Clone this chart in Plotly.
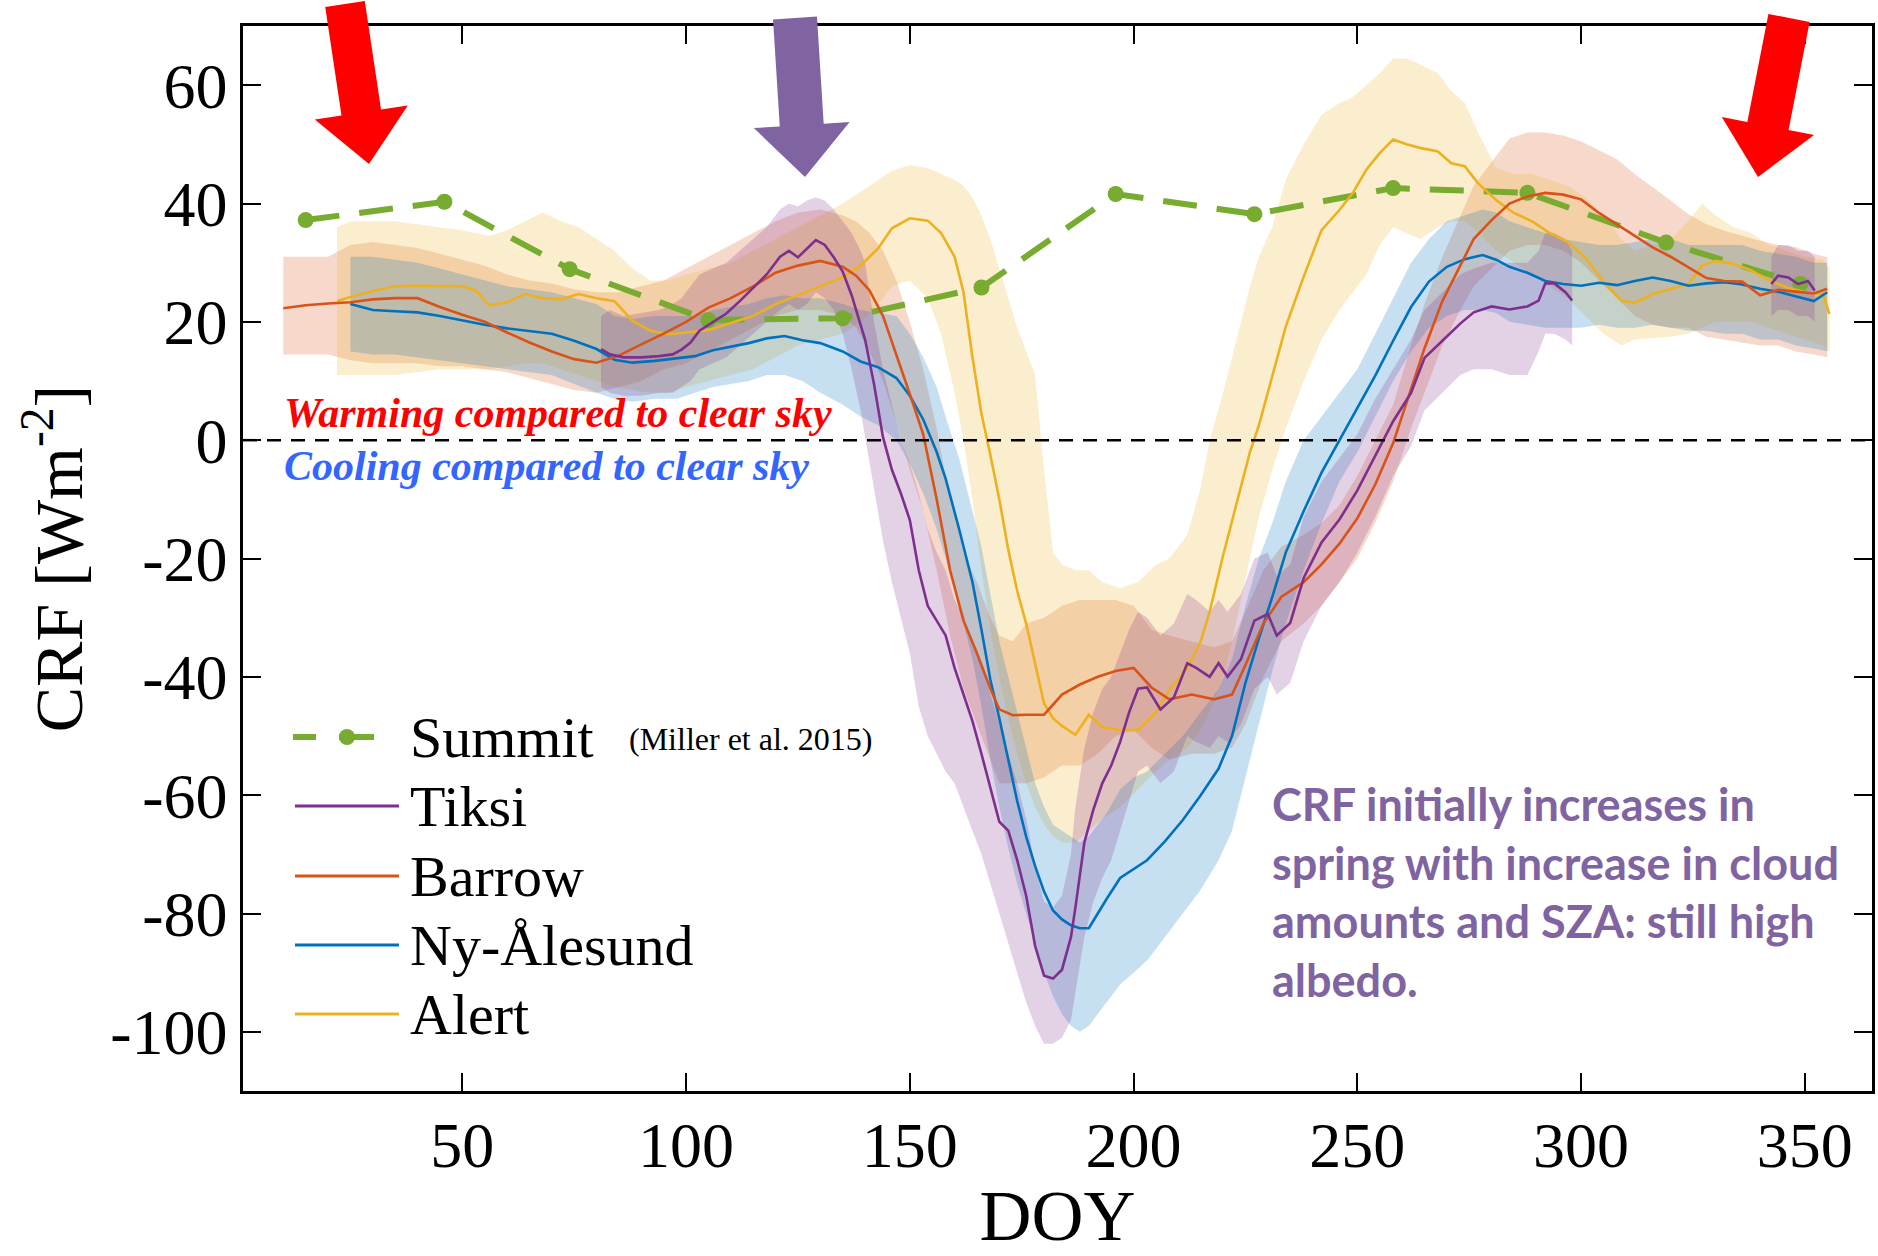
import math
import plotly.graph_objects as go

# ---------------- data ----------------
summit_doy = [15, 46, 74, 105, 135, 166, 196, 227, 258, 288, 319, 349]
summit_crf = [37.2, 40.3, 28.9, 20.3, 20.6, 25.8, 41.6, 38.2, 42.6, 41.8, 33.4, 26.4]

barrow_doy = [10, 15, 20, 25, 30, 35, 40, 45, 50, 55,
              60, 65, 70, 75, 80, 85, 90, 95, 100, 105,
              110, 115, 120, 125, 130, 135, 138, 141, 144, 147,
              150, 153, 156, 159, 162, 165, 168, 170, 173, 176,
              180, 184, 188, 192, 196, 200, 204, 208, 213, 218,
              222, 225, 229, 233, 238, 242, 246, 250, 254, 258,
              262, 265, 269, 273, 276, 280, 284, 288, 292, 296,
              300, 304, 308, 312, 316, 320, 324, 328, 332, 336,
              340, 344, 348, 352, 355]
barrow_crf = [22.3, 22.8, 23.1, 23.3, 23.8, 24.0, 24.0, 22.5, 21.2, 20.0,
              18.2, 16.5, 15.0, 13.7, 13.1, 14.3, 16.2, 18.0, 20.0, 22.4,
              24.0, 26.0, 28.3, 29.5, 30.3, 29.3, 27.8, 25.3, 21.0, 14.5,
              7.8, 1.0, -10.0, -22.0, -30.5, -36.0, -42.0, -45.5, -46.5, -46.4,
              -46.4, -43.0, -41.3, -40.0, -39.0, -38.5, -41.8, -43.8, -43.0, -43.8,
              -43.0, -38.0, -31.0, -26.5, -24.0, -21.0, -17.5, -13.2, -7.5, -0.5,
              8.5, 15.5, 23.5, 29.5, 34.0, 37.2, 40.0, 41.2, 41.8, 41.5,
              40.7, 38.4, 36.5, 34.6, 32.6, 31.0, 29.2, 27.4, 26.9, 26.8,
              24.5, 25.4, 25.1, 24.8, 25.6]
barrow_lo = [14.5, 14.5, 14.5, 13.5, 13, 13, 13, 12.5, 12.5, 12,
             11.5, 10.5, 9.5, 8.5, 8, 9, 10, 12, 13, 15,
             17, 19, 21, 22, 22, 21, 19, 15, 10, 3,
             -5, -12, -22, -33, -42, -48, -54, -58, -58, -58,
             -57, -55, -55, -53, -50, -49, -52, -54, -53, -53,
             -52, -48, -40, -34, -31, -28, -24, -20, -14, -7,
             2, 8, 16, 22, 26, 29, 32, 33, 33, 32,
             30, 27, 24, 21, 19.5, 19, 19, 17.5, 17, 16.5,
             16, 16, 15, 14.5, 14]
barrow_hi = [31, 31, 31, 33, 33.5, 33, 32.5, 31.5, 30.5, 29.5,
             28, 27, 26.5, 25.5, 25, 25, 26, 27, 29, 31,
             33, 35, 37, 38.5, 39, 38, 37, 35, 32, 27,
             20, 12, 2, -10, -19, -24, -30, -33, -34, -31,
             -30, -28, -27, -27, -27, -28, -32, -33, -34, -35,
             -34, -29, -22, -18, -16, -14, -11, -6, 0, 6,
             16, 23, 31, 38, 43, 47, 51, 52, 52, 51.5,
             50.5, 49, 47.5, 45, 42.8, 40.5, 38.2, 36.5, 35.4, 34.5,
             33.7, 33, 32.6, 31.5, 30.9]

alert_doy = [22, 25, 30, 35, 40, 45, 50, 53, 56, 60,
             64, 68, 72, 76, 80, 84, 88, 92, 96, 100,
             105, 110, 115, 120, 125, 130, 135, 139, 143, 146,
             150, 154, 157, 160, 162, 164, 166, 168, 170, 172,
             174, 176, 178, 180, 182, 184, 187, 190, 193, 197,
             201, 205, 208, 212, 215, 217, 220, 222, 224, 226,
             228, 231, 234, 238, 242, 246, 249, 252, 255, 258,
             261, 264, 268, 271, 274, 277, 281, 285, 289, 293,
             297, 301, 305, 309, 312, 316, 320, 324, 327, 330,
             334, 338, 342, 346, 350, 354, 355.5]
alert_crf = [23.5, 24.2, 25.2, 26.0, 26.1, 26.1, 26.0, 25.3, 22.8, 23.3,
             24.7, 24.0, 23.8, 24.7, 24.0, 23.5, 20.2, 18.5, 17.9, 18.2,
             18.6, 19.8, 21.0, 23.0, 24.5, 26.0, 27.5, 29.5, 32.5, 35.8,
             37.5, 37.1, 35.0, 31.0, 25.0, 14.0, 4.5, -2.5, -10.0, -18.5,
             -25.5, -31.0, -38.0, -44.5, -47.0, -48.3, -49.8, -46.4, -48.5, -49.0,
             -49.0, -46.0, -42.2, -38.5, -34.0, -29.0, -19.5, -13.5, -7.5, -2.0,
             2.5, 10.7, 19.2, 27.6, 35.5, 38.9, 41.8, 45.7, 48.5, 50.8,
             50.0, 49.4, 48.8, 46.8, 46.3, 43.4, 40.6, 38.4, 37.0, 35.0,
             33.5, 30.8, 26.8, 23.6, 23.2, 24.7, 25.5, 26.4, 29.5, 30.3,
             29.8, 28.7, 27.0, 25.8, 25.0, 24.7, 21.3]
alert_lo = [11, 11, 11, 11, 11.5, 12, 12, 12, 12, 12.5,
            13, 13, 12, 11, 10, 9, 8.5, 8, 8, 9,
            10, 11, 12, 14, 16, 17, 18, 20, 23, 26,
            27, 24, 18, 8, 0, -10, -22, -32, -40, -47,
            -53, -58, -62, -65, -67, -68, -68, -66, -64, -62,
            -59, -56, -54, -52, -49, -46, -40, -34, -27, -20,
            -13, -5, 2, 10, 17, 22, 25, 28, 33, 36,
            35, 34, 36, 37, 37, 35, 32, 30, 28, 26,
            24, 21, 18, 16, 17, 17.3, 17.5, 18, 19, 20,
            20, 20, 19, 18, 17, 16, 15]
alert_hi = [36, 37, 37, 37, 36.5, 36, 35.5, 35, 34.5, 35.5,
            37, 38.5, 37, 36, 34, 32, 29, 27, 27, 28,
            29, 30, 32, 34, 36, 38, 40, 42, 44, 45.5,
            46.5, 46, 45, 44, 43, 41, 38, 34, 29, 24,
            19, 15, 11, -5, -19, -21, -22, -22, -24, -25,
            -24, -21, -20, -16, -8, 0, 8, 14, 20, 26,
            31, 36, 44, 50, 55, 57, 58, 60, 62, 64.5,
            64.5, 63.5, 62, 59, 57, 52, 46, 45, 45, 44,
            43, 41, 38, 34, 32, 33, 34, 37, 40, 38,
            36, 35, 33, 32, 31, 30.5, 29]

nya_doy = [25, 30, 35, 40, 45, 50, 55, 60, 65, 70,
           75, 80, 84, 88, 93, 98, 102, 106, 110, 114,
           118, 122, 126, 130, 135, 139, 143, 147, 150, 153,
           156, 158, 161, 164, 166, 168, 170, 172, 174, 176,
           178, 180, 182, 184, 186, 188, 190, 192, 194, 197,
           200, 203, 207, 211, 215, 219, 222, 225, 228, 231,
           234, 238, 242, 246, 250, 254, 258, 262, 266, 270,
           274, 278, 281, 284, 288, 292, 296, 300, 304, 308,
           312, 316, 320, 324, 328, 332, 336, 340, 344, 348,
           352, 355]
nya_crf = [23.0, 22.0, 21.8, 21.6, 21.0, 20.2, 19.5, 18.9, 18.4, 18.0,
           16.8, 15.4, 13.6, 13.1, 13.4, 13.8, 14.2, 15.2, 15.8, 16.4,
           17.2, 17.6, 16.9, 16.4, 15.0, 13.3, 12.3, 10.5, 7.5, 3.5,
           -2.0, -6.5, -15.0, -24.0, -32.0, -40.5, -47.0, -54.0, -61.0, -67.0,
           -72.0, -76.3, -79.5, -81.0, -82.0, -82.5, -82.5, -80.0, -77.5, -74.0,
           -72.5, -71.0, -67.8, -64.2, -60.0, -55.5, -50.0, -41.0, -33.5, -26.5,
           -19.0, -12.0, -5.5, 0.0, 5.5, 10.9, 16.8, 22.5, 26.8, 29.3,
           30.6, 31.3, 30.5, 29.3, 28.3, 26.9, 26.4, 26.1, 26.6, 26.2,
           26.9, 27.5, 26.9, 26.1, 26.5, 26.7, 26.3, 25.6, 25.1, 24.3,
           23.5, 25.0]
nya_lo = [15, 14.5, 14.5, 14, 13.5, 13, 12.5, 12, 11.5, 11,
          9.5, 8, 7, 6.5, 7, 7, 8, 9, 9.5, 10,
          11, 11, 10, 8, 6, 4, 2.5, 0, -4, -9,
          -15, -20, -28, -37, -45, -54, -62, -69, -75, -80,
          -85, -90, -94, -97, -99, -100, -99, -97, -95, -92,
          -90, -88, -84, -80, -76, -71, -66, -57, -48, -39,
          -31, -22, -14, -7, -2, 4, 10, 15, 19, 21,
          22, 22, 21.5, 20, 19.5, 19, 19, 19, 19.5, 19,
          19, 19.5, 19, 18.5, 18.5, 18, 18, 17, 17, 16,
          15.5, 15]
nya_hi = [31, 31, 30.5, 30, 29, 28, 27, 26, 25.5, 25,
          24, 23, 21, 20.5, 21, 21, 21, 22, 22.5, 23,
          24, 24.5, 24, 24, 23, 22, 21.5, 21, 18, 14,
          9, 4, -3, -12, -18, -26, -34, -40, -46, -52,
          -58, -62, -65, -66, -67, -68, -67, -65, -63, -59,
          -57, -56, -53, -50, -46, -42, -37, -28, -20, -14,
          -7, 0, 4, 8, 12, 18, 24, 30, 34, 37,
          38, 39, 38.5, 37, 36, 35, 34, 33.5, 33, 33,
          33.5, 34, 34, 33, 33, 33, 33, 32, 31.5, 31,
          30, 30]

tiksi_doy = [81, 83, 86, 90, 94, 97, 99, 101, 103, 106,
             109, 112, 115, 118, 121, 123, 125, 127, 129, 131,
             133, 135, 137, 139, 140, 142, 144, 146, 148, 150,
             152, 154, 156, 158, 160, 162, 164, 166, 168, 170,
             172, 174, 176, 178, 180, 182, 184, 186, 187, 189,
             191, 193, 195, 197, 199, 201, 203, 206, 209, 212,
             214, 217, 219, 221, 224, 227, 230, 232, 235, 238,
             242, 246, 250, 254, 258, 262, 265, 269, 273, 276,
             280, 284, 288, 290.5, 292, 294, 296.5, 298]
tiksi_crf = [15.4, 14.5, 14.0, 14.0, 14.2, 14.5, 15.3, 16.5, 18.5, 20.0,
             21.4, 23.5, 25.8, 28.0, 31.0, 32.0, 30.9, 32.3, 33.8, 33.0,
             30.9, 28.5, 24.5, 19.5, 17.0, 9.5, 0.5, -5.0, -9.0, -13.5,
             -22.0, -28.0, -30.5, -33.0, -38.5, -43.2, -47.5, -53.0, -59.0, -64.5,
             -66.0, -71.0, -77.0, -85.5, -90.5, -91.0, -89.5, -84.0, -79.0, -68.0,
             -62.5, -58.0, -55.0, -51.0, -46.0, -42.0, -41.8, -45.5, -43.5, -37.7,
             -38.5, -40.0, -37.7, -40.0, -37.0, -30.5, -29.4, -33.0, -30.9, -23.3,
             -17.3, -13.4, -8.5, -2.7, 3.2, 8.0, 13.9, 16.8, 19.7, 21.6,
             22.6, 22.1, 22.6, 23.6, 26.5, 26.5, 25.0, 23.6]
tiksi_lo = [9, 8, 7.5, 7.5, 8, 8, 9, 10, 12, 13,
            14, 16, 18, 20, 22, 23, 22, 23, 25, 24,
            22, 18, 12, 5, 1, -8, -17, -24, -30, -36,
            -45, -50, -53, -56, -58, -62, -66, -70, -75, -80,
            -85, -90, -95, -99, -102, -102, -101, -98, -93, -84,
            -78, -74, -71, -66, -61, -56, -55, -58, -56, -50,
            -51, -52, -50, -51, -48, -42, -40, -43, -41, -34,
            -28, -24, -19, -13, -6, -1, 5, 8, 11, 12,
            12, 11, 11, 15, 18, 18, 17, 16]
tiksi_hi = [21, 22, 21, 21.5, 22, 23, 24, 26, 28, 29,
            30, 32, 34, 36, 39, 40, 39.5, 40.5, 41, 40.5,
            39, 37, 35, 32, 30, 20, 12, 6, 0, -4,
            -9, -15, -19, -22, -27, -30, -34, -38, -43, -48,
            -53, -58, -64, -72, -78, -79, -77, -70, -62, -52,
            -46, -42, -40, -36, -32, -29, -30, -33, -31, -26,
            -27, -29, -27, -29, -26, -20, -19, -23, -21, -13,
            -7, -3, 1, 7, 12, 17, 22, 25, 28, 29,
            30, 30, 30, 32, 35, 35, 34, 32]

tiksi_late_doy = [342.5, 344, 346.3, 348.5, 350.7, 352.2]
tiksi_late_crf = [26.4, 27.8, 27.5, 26.4, 26.9, 25.3]
tiksi_late_lo = [21, 22, 22, 21, 21, 20]
tiksi_late_hi = [31, 33, 33, 32, 32, 31]

x_tickvals = [50, 100, 150, 200, 250, 300, 350]
x_ticktext = ["50", "100", "150", "200", "250", "300", "350"]
y_tickvals = [-100, -80, -60, -40, -20, 0, 20, 40, 60]
y_ticktext = ["-100", "-80", "-60", "-40", "-20", "0", "20", "40", "60"]

legend_names = ["Summit", "Tiksi", "Barrow", "Ny-Ålesund", "Alert"]

# ---------------- style ----------------
C_SUMMIT = "#77AC30"
C_TIKSI = "#7E2F8E"
C_BARROW = "#D95319"
C_NYA = "#0072BD"
C_ALERT = "#EDB120"
SERIF = "Liberation Serif, Times New Roman, serif"

W, H = 1878, 1256
PL, PR, PT, PB = 243, 1872, 26, 1091


def rgba(hexc, a):
    h = hexc.lstrip("#")
    return "rgba(%d,%d,%d,%.2f)" % (int(h[0:2], 16), int(h[2:4], 16), int(h[4:6], 16), a)


def px(x):
    return (x - PL) / (PR - PL)


def py(y):
    return (PB - y) / (PB - PT)


fig = go.Figure()


def band(doy, lo, hi, color):
    fig.add_trace(go.Scatter(
        x=list(doy) + list(doy)[::-1],
        y=list(hi) + list(lo)[::-1],
        fill="toself", fillcolor=rgba(color, 0.22),
        line=dict(width=0), mode="lines", hoverinfo="skip", showlegend=False))


band(barrow_doy, barrow_lo, barrow_hi, C_BARROW)
band(alert_doy, alert_lo, alert_hi, C_ALERT)
band(nya_doy, nya_lo, nya_hi, C_NYA)
band(tiksi_doy, tiksi_lo, tiksi_hi, C_TIKSI)
band(tiksi_late_doy, tiksi_late_lo, tiksi_late_hi, C_TIKSI)

fig.add_trace(go.Scatter(x=summit_doy, y=summit_crf, mode="lines+markers", name="Summit",
                         line=dict(color=C_SUMMIT, width=6, dash="34px,20px"),
                         marker=dict(color=C_SUMMIT, size=16), showlegend=False))
fig.add_trace(go.Scatter(x=alert_doy, y=alert_crf, mode="lines", name="Alert",
                         line=dict(color=C_ALERT, width=2.6), showlegend=False))
fig.add_trace(go.Scatter(x=nya_doy, y=nya_crf, mode="lines", name="Ny-Ålesund",
                         line=dict(color=C_NYA, width=2.6), showlegend=False))
fig.add_trace(go.Scatter(x=barrow_doy, y=barrow_crf, mode="lines", name="Barrow",
                         line=dict(color=C_BARROW, width=2.6), showlegend=False))
fig.add_trace(go.Scatter(x=tiksi_doy, y=tiksi_crf, mode="lines", name="Tiksi",
                         line=dict(color=C_TIKSI, width=2.6), showlegend=False))
fig.add_trace(go.Scatter(x=tiksi_late_doy, y=tiksi_late_crf, mode="lines", name="Tiksi",
                         line=dict(color=C_TIKSI, width=2.6), showlegend=False))

shapes = []
# zero reference line
shapes.append(dict(type="line", xref="paper", yref="y", x0=0, x1=1, y0=0, y1=0,
                   line=dict(color="black", width=2.5, dash="14px,10px"), layer="above"))


def arrow(x0, y0, x1, y1, sw, hw, hl, color):
    dx, dy = x1 - x0, y1 - y0
    L = math.hypot(dx, dy)
    ux, uy = dx / L, dy / L
    nx, ny = -uy, ux
    bx, by = x1 - ux * hl, y1 - uy * hl
    pts = [(x0 + nx * sw, y0 + ny * sw), (bx + nx * sw, by + ny * sw),
           (bx + nx * hw, by + ny * hw), (x1, y1),
           (bx - nx * hw, by - ny * hw), (bx - nx * sw, by - ny * sw),
           (x0 - nx * sw, y0 - ny * sw)]
    path = "M " + " L ".join("%.5f,%.5f" % (px(a), py(b)) for a, b in pts) + " Z"
    return dict(type="path", xref="paper", yref="paper", path=path,
                fillcolor=color, line=dict(width=0), layer="above")


shapes.append(arrow(345, 4, 369, 164, 20, 47, 52, "#FF0000"))
shapes.append(arrow(795, 18, 805, 177, 22, 48, 52, "#8064A2"))
shapes.append(arrow(1789, 18, 1758, 177, 21, 47, 52, "#FF0000"))

# legend (drawn manually to match the original layout)
leg_y = [737, 806, 876, 945, 1014]
leg_colors = [C_SUMMIT, C_TIKSI, C_BARROW, C_NYA, C_ALERT]
annotations = []
for i, (name, yc, col) in enumerate(zip(legend_names, leg_y, leg_colors)):
    if i == 0:
        shapes.append(dict(type="line", xref="paper", yref="paper",
                           x0=px(293), x1=px(316), y0=py(yc), y1=py(yc),
                           line=dict(color=col, width=6)))
        shapes.append(dict(type="line", xref="paper", yref="paper",
                           x0=px(339), x1=px(374), y0=py(yc), y1=py(yc),
                           line=dict(color=col, width=6)))
        shapes.append(dict(type="circle", xref="paper", yref="paper",
                           x0=px(339), x1=px(355), y0=py(yc + 8), y1=py(yc - 8),
                           fillcolor=col, line=dict(width=0)))
    else:
        shapes.append(dict(type="line", xref="paper", yref="paper",
                           x0=px(295), x1=px(399), y0=py(yc), y1=py(yc),
                           line=dict(color=col, width=3)))
    annotations.append(dict(xref="paper", yref="paper", x=px(408), y=py(yc),
                            xanchor="left", yanchor="middle", showarrow=False,
                            text=name, font=dict(family=SERIF, size=58, color="black")))

annotations.append(dict(xref="paper", yref="paper", x=px(627), y=py(739),
                        xanchor="left", yanchor="middle", showarrow=False,
                        text="(Miller et al. 2015)",
                        font=dict(family=SERIF, size=32, color="black")))
annotations.append(dict(xref="paper", yref="paper", x=px(282), y=py(413),
                        xanchor="left", yanchor="middle", showarrow=False,
                        text="<b><i>Warming compared to clear sky</i></b>",
                        font=dict(family=SERIF, size=42, color="#FF0000")))
annotations.append(dict(xref="paper", yref="paper", x=px(282), y=py(466),
                        xanchor="left", yanchor="middle", showarrow=False,
                        text="<b><i>Cooling compared to clear sky</i></b>",
                        font=dict(family=SERIF, size=42, color="#3366FF")))
annotations.append(dict(xref="paper", yref="paper", x=px(1270), y=py(892),
                        xanchor="left", yanchor="middle", align="left", showarrow=False,
                        text="<b>CRF initially increases in<br>spring with increase in cloud"
                             "<br>amounts and SZA: still high<br>albedo.</b>",
                        font=dict(family="Lato, Open Sans, sans-serif", size=45, color="#8064A2")))

axis_common = dict(showline=True, linecolor="black", linewidth=2.5, mirror="ticks",
                   ticks="inside", ticklen=18, tickwidth=2, tickcolor="black",
                   showgrid=False, zeroline=False,
                   tickfont=dict(family=SERIF, size=64, color="black"))

fig.update_layout(
    width=W, height=H,
    margin=dict(l=PL, r=W - PR, t=PT, b=H - PB, autoexpand=False),
    paper_bgcolor="white", plot_bgcolor="white",
    showlegend=False,
    xaxis=dict(range=[1, 365], tickmode="array", tickvals=x_tickvals, ticktext=x_ticktext,
               ticklabelstandoff=-4,
               title=dict(text="DOY", font=dict(family=SERIF, size=72, color="black"), standoff=62),
               **axis_common),
    yaxis=dict(range=[-110, 70], tickmode="array", tickvals=y_tickvals, ticktext=y_ticktext,
               ticklabelstandoff=0,
               title=dict(text="CRF [Wm<sup>-2</sup>]", font=dict(family=SERIF, size=68, color="black"),
                          standoff=6),
               **axis_common),
    shapes=shapes,
    annotations=annotations,
)

fig.write_html("out.html")
